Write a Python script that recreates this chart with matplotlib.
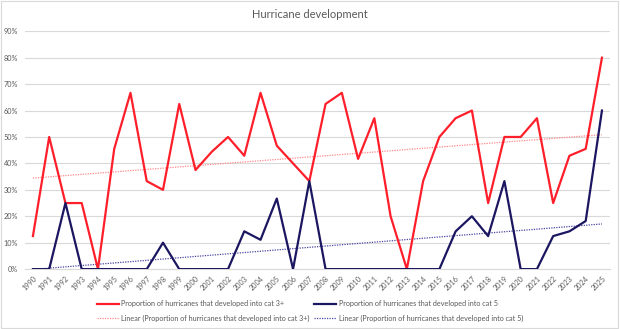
import numpy as np
import matplotlib
matplotlib.use('Agg')
import matplotlib.pyplot as plt
from matplotlib.patches import Rectangle
from matplotlib.ticker import PercentFormatter

plt.rcParams['font.family'] = ['Lato', 'DejaVu Sans']

# =============================================================================
# DATA
# =============================================================================

years = list(range(1990, 2026))
cat3 = [12.5, 50, 25, 25, 0, 45.5, 66.7, 33.3, 30, 62.5,
        37.5, 44.4, 50, 42.9, 66.7, 46.7, 40, 33.3, 62.5, 66.7,
        41.7, 57.1, 20, 0, 33.3, 50, 57.1, 60, 25, 50,
        50, 57.1, 25, 42.9, 45.5, 80]
cat5 = [0, 0, 25, 0, 0, 0, 0, 0, 10, 0,
        0, 0, 0, 14.3, 11.1, 26.7, 0, 33.3, 0, 0,
        0, 0, 0, 0, 0, 0, 14.3, 20, 12.5, 33.3,
        0, 0, 12.5, 14.3, 18.2, 60]
lab3 = 'Proportion of hurricanes that developed into cat 3+'
lab5 = 'Proportion of hurricanes that developed into cat 5'

# =============================================================================
# PLOT
# =============================================================================

red = '#FF1F2B'
navy = '#1B1660'
grey = '#595959'

x = np.arange(len(years))

fig = plt.figure(figsize=(6.2, 3.29), dpi=100)
ax = fig.add_axes([0.040, 0.182, 0.944, 0.723])

l3, = ax.plot(x, cat3, color=red, lw=1.6, label=lab3, zorder=3)
l5, = ax.plot(x, cat5, color=navy, lw=1.6, label=lab5, zorder=3)

# linear trendlines (least squares, as Excel does)
p3 = np.polyfit(x, cat3, 1)
p5 = np.polyfit(x, cat5, 1)
t3, = ax.plot(x, np.polyval(p3, x), color='#FF8A8A', lw=0.9, ls=(0, (1, 1)),
              label='Linear (' + lab3 + ')', zorder=2)
t5, = ax.plot(x, np.polyval(p5, x), color='#4A46A0', lw=0.9, ls=(0, (1, 1)),
              label='Linear (' + lab5 + ')', zorder=2)

ax.set_xlim(-0.5, len(years) - 0.5)
ax.set_ylim(0, 90)
ax.set_yticks(np.arange(0, 91, 10))
ax.yaxis.set_major_formatter(PercentFormatter(decimals=0))
ax.set_xticks(x)
ax.set_xticklabels([str(y) for y in years], rotation=45, ha='right',
                   rotation_mode='anchor')
ax.tick_params(axis='both', length=0, labelsize=5.2, labelcolor=grey)
ax.tick_params(axis='y', pad=5)
ax.tick_params(axis='x', pad=4)
ax.grid(axis='y', color='#D9D9D9', lw=0.8)
ax.set_axisbelow(True)
for s in ['top', 'right', 'left']:
    ax.spines[s].set_visible(False)
ax.spines['bottom'].set_color('#D9D9D9')

fig.text(0.5, 0.955, 'Hurricane development', ha='center', va='center',
         fontsize=8, color=grey)

# Excel fills the legend row by row; matplotlib fills by column
fig.legend(handles=[l3, t3, l5, t5], ncol=2, loc='center',
           bbox_to_anchor=(0.5, 0.055), frameon=False, fontsize=5.2,
           labelcolor=grey, handlelength=3.0, handletextpad=0.4,
           columnspacing=0.6, labelspacing=1.0)

fig.patches.append(Rectangle((0.002, 0.003), 0.994, 0.994, transform=fig.transFigure,
                             fill=False, ec='#D9D9D9', lw=0.8))

plt.savefig('out.png', dpi=100)
